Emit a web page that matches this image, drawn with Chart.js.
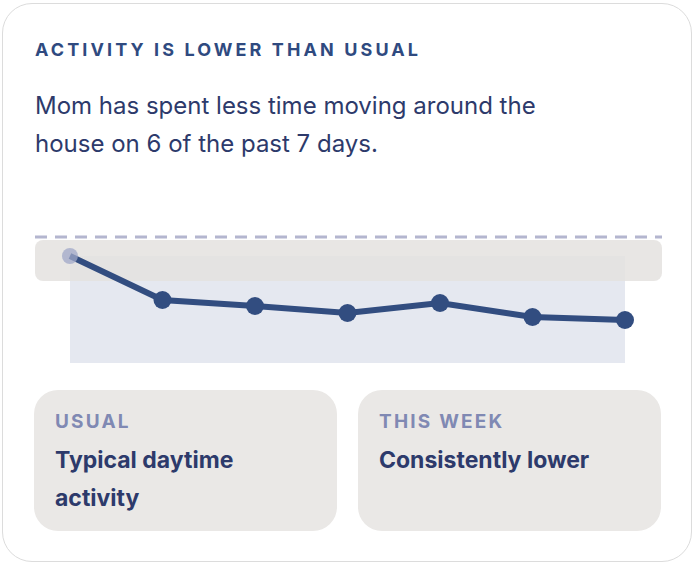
<!DOCTYPE html><html><head><meta charset="utf-8">
<script src="https://cdn.jsdelivr.net/npm/chart.js@4"></script>
<style>
body{margin:0;background:#fff;font-family:Inter,"Noto Sans",sans-serif;}
#card{position:absolute;left:2px;top:3px;width:690px;height:559px;border:1.5px solid #dcdcdc;border-radius:30px;box-sizing:border-box;}
.t{position:absolute;left:35px;top:39px;font-size:18px;font-weight:700;letter-spacing:3.1px;color:#2f4a80;white-space:nowrap;}
.b{position:absolute;left:35px;top:87px;font-size:24px;line-height:38px;color:#2d3a6b;width:570px;}
.box{position:absolute;top:390px;width:303px;height:141px;background:#eae8e6;border-radius:24px;}
.lab{position:absolute;left:21px;top:20px;font-size:19px;font-weight:700;letter-spacing:2.2px;color:#8089b3;}
.val{position:absolute;left:21px;top:51px;font-size:23px;font-weight:700;line-height:38px;color:#2d3a6b;width:230px;}
#wrap{position:absolute;left:26px;top:211px;width:645px;height:178px;}
</style></head><body>
<div id="card"></div>
<div class="t">ACTIVITY IS LOWER THAN USUAL</div>
<div class="b">Mom has spent less time moving around the house on 6 of the past 7 days.</div>
<div id="wrap"><canvas id="c"></canvas></div>
<div class="box" style="left:34px"><div class="lab">USUAL</div><div class="val">Typical daytime activity</div></div>
<div class="box" style="left:358px"><div class="lab">THIS WEEK</div><div class="val" style="width:270px">Consistently lower</div></div>
<script>
const days=[0,1,2,3,4,5,6];
const activity=[124,80,74,67,77,63,60];
const usualHigh=143, bandTop=140, bandBottom=99, baseline=17, fillTop=124;
const bandPlugin={id:'band',beforeDatasetsDraw(ch){
 const {ctx,scales:{x,y}}=ch;
 const l=x.getPixelForValue(-0.378),r=x.getPixelForValue(6.4);
 const t=y.getPixelForValue(bandTop),b=y.getPixelForValue(bandBottom);
 ctx.save();
 ctx.fillStyle='#e5e8f0';
 const fx=x.getPixelForValue(0),fr=x.getPixelForValue(6);
 ctx.fillRect(fx,y.getPixelForValue(fillTop),fr-fx,y.getPixelForValue(baseline)-y.getPixelForValue(fillTop));
 ctx.fillStyle='rgba(228,226,223,0.85)';
 ctx.beginPath();ctx.roundRect(l,t,r-l,b-t,8);ctx.fill();
 ctx.strokeStyle='#b4b6cf';ctx.lineWidth=3;ctx.setLineDash([12,8]);
 const u=y.getPixelForValue(usualHigh);
 ctx.beginPath();ctx.moveTo(l,u);ctx.lineTo(r,u);ctx.stroke();
 ctx.restore();}};
new Chart(document.getElementById('c'),{type:'line',
 data:{datasets:[{data:days.map((d,i)=>({x:d,y:activity[i]})),borderColor:'#324d80',borderWidth:6,
  pointRadius:days.map(i=>i===0?8:9),pointBackgroundColor:days.map(i=>i===0?'rgba(160,168,200,0.75)':'#324d80'),
  pointBorderWidth:0,tension:0}]},
 options:{responsive:true,maintainAspectRatio:false,animation:false,
  layout:{padding:0},plugins:{legend:{display:false},tooltip:{enabled:false}},
  scales:{x:{type:'linear',min:-0.378,max:6.4,display:false},y:{min:0,max:160,display:false}}},
 plugins:[bandPlugin]});
</script></body></html>
